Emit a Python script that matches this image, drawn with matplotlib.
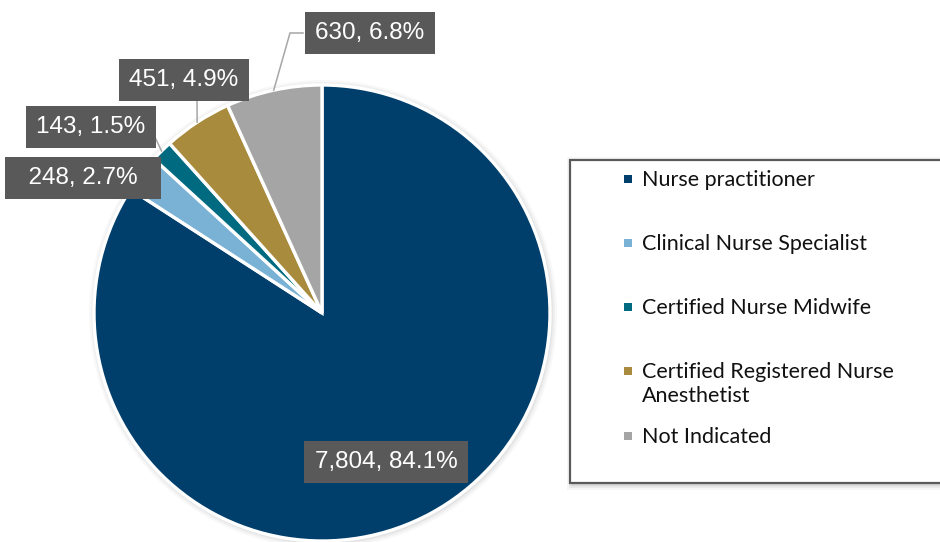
import numpy as np
import matplotlib
matplotlib.use('Agg')
import matplotlib.pyplot as plt
from matplotlib.patches import Rectangle, Circle

# Data
categories = ['Nurse practitioner', 'Clinical Nurse Specialist', 'Certified Nurse Midwife',
              'Certified Registered Nurse\nAnesthetist', 'Not Indicated']
counts = [7804, 248, 143, 451, 630]
pct_labels = ['84.1%', '2.7%', '1.5%', '4.9%', '6.8%']
colors = ['#003F6B', '#7AB2D6', '#006B80', '#A88B3D', '#A5A5A5']

W, H = 940, 542
fig = plt.figure(figsize=(W / 100, H / 100), dpi=100)
ax = fig.add_axes([0, 0, 1, 1])


def py(y):
    # convert pixel row (from top) to data y
    return H - y


cx, cy, r = 322, py(313), 228

# soft shadow behind the pie
for k, a in [(6, 0.05), (4, 0.07), (2, 0.10)]:
    ax.add_patch(Circle((cx + 1, cy - 1), r + k, color='#808080', alpha=a, lw=0, zorder=0))

wedges, _ = ax.pie(counts, colors=colors, startangle=90, counterclock=False,
                   center=(cx, cy), radius=r, frame=True,
                   wedgeprops=dict(edgecolor='white', linewidth=2.4))
ax.set_xlim(0, W)
ax.set_ylim(0, H)
ax.set_aspect('equal')
ax.axis('off')

# data label boxes (center positions in pixels) and leader elbows
label_pos = [(386, 462), (83, 178), (91, 127), (184, 80), (370, 33)]
leaders = [None, None, [(153, 133)], [(197, 98)], [(303, 33), (290, 33)]]
side_pad = [0, 2, 0, 0, 0]

box = dict(boxstyle='square,pad=0.42', fc='#595959', ec='none')
for w, n, p, (lx, ly), ld, sp in zip(wedges, counts, pct_labels, label_pos, leaders, side_pad):
    if ld is not None:
        ang = np.deg2rad((w.theta1 + w.theta2) / 2)
        ex, ey = cx + r * np.cos(ang), cy + r * np.sin(ang)
        xs = [q[0] for q in ld] + [ex]
        ys = [py(q[1]) for q in ld] + [ey]
        ax.plot(xs, ys, color='#A6A6A6', lw=1.1, zorder=3)
    txt = ' ' * sp + f'{n:,}, {p}' + ' ' * sp
    ax.text(lx, py(ly), txt, ha='center', va='center', color='white',
            fontsize=17.5, family='Liberation Sans', bbox=box, zorder=5)

# legend box drawn by hand
lx0, ly0, lx1, ly1 = 570, 160, 945, 483
for k, a in [(5, 0.06), (3, 0.10), (1, 0.15)]:
    ax.add_patch(Rectangle((lx0 + 2 - k, py(ly1) - 2 - k), (lx1 - lx0) + 2 * k, (ly1 - ly0) + 2 * k,
                           fc='#707070', ec='none', alpha=a, zorder=1))
ax.add_patch(Rectangle((lx0, py(ly1)), lx1 - lx0, ly1 - ly0, fc='white', ec='#595959',
                       lw=1.6, zorder=2))

for i, (lab, col) in enumerate(zip(categories, colors)):
    yy = 178.5 + 64.3 * i
    ax.add_patch(Rectangle((624, py(yy) - 4), 8, 8, fc=col, ec='none', zorder=3))
    ax.text(642, py(yy - 9), lab, ha='left', va='top', fontsize=15.5, family='Lato',
            color='#111111', linespacing=1.2, zorder=3)

fig.savefig('out.png', dpi=100)
